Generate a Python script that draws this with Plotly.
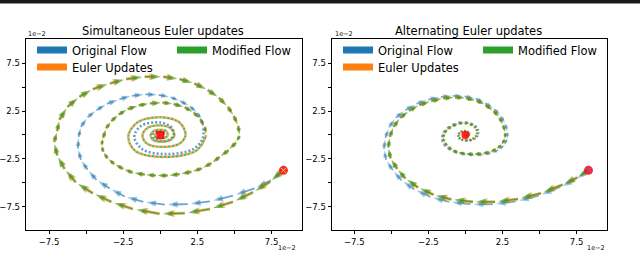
import math
import plotly.graph_objects as go

# ---------------- data (values in units of 1e-2) ----------------
START_X = [8.3]
START_Y = [-3.7]
CENTER_X = [0.0]
CENTER_Y = [0.0]

# Left panel: simultaneous Euler updates
L_EU_X = [8.3, 7.4, 6.25, 4.9, 3.35, 1.65, -0.05, -1.85, -3.3, -4.55,
          -5.7, -6.45, -6.95, -7.15, -6.95, -6.8, -6.25, -5.45, -4.55, -3.4,
          -2.3, -1.05, 0.2, 1.3, 2.3, 3.2, 3.95, 4.55, 4.95, 5.25,
          5.35, 5.1, 4.6, 4.0, 3.45, 2.8, 2.1, 1.3, 0.5, -0.3,
          -1.05, -1.85, -2.5, -3.1, -3.55, -3.85, -3.95, -3.85, -3.65, -3.3,
          -2.8, -2.2, -1.45, -0.7, 0.15, 0.9, 1.65, 2.25, 2.7, 3.0, 3.1]
L_EU_Y = [-3.7, -4.9, -6.0, -7.0, -7.75, -8.2, -8.25, -7.75, -7.0, -6.1,
          -4.95, -3.55, -2.15, -0.75, 0.4, 1.6, 2.95, 4.0, 4.8, 5.4,
          5.85, 6.1, 6.1, 5.85, 5.4, 4.7, 3.9, 2.95, 2.0, 0.95,
          -0.1, -0.8, -1.6, -2.3, -2.95, -3.5, -3.85, -4.1, -4.25, -4.25,
          -4.15, -3.95, -3.55, -3.05, -2.45, -1.75, -1.0, -0.3, 0.7, 1.45,
          2.15, 2.7, 3.1, 3.3, 3.4, 3.25, 2.9, 2.35, 1.65, 0.85, 0.0]
L_EU_IN_X = [3.1, 2.45, 0.3, -1.7, -2.15, -1.5, 0.1, 1.3, 1.7, 1.3, 0.15, -0.9,
             -1.2, -0.85, 0.05, 0.7, 0.95, 0.7, 0.1, -0.5, -0.65, -0.45, 0.0,
             0.4, 0.5, 0.35, 0.05, -0.28, -0.36, -0.25, 0.0, 0.2, 0.27]
L_EU_IN_Y = [0.0, -1.6, -2.3, -1.65, -0.1, 1.35, 1.85, 1.3, 0.0, -0.9, -1.25, -0.9,
             -0.05, 0.75, 1.0, 0.7, 0.0, -0.5, -0.7, -0.5, 0.0, 0.4, 0.55,
             0.4, 0.0, -0.28, -0.38, -0.27, 0.0, 0.22, 0.3, 0.2, 0.0]
L_MOD_X = L_EU_X
L_MOD_Y = L_EU_Y
L_MOD_IN_X = L_EU_IN_X
L_MOD_IN_Y = L_EU_IN_Y
L_OR_X = [8.3, 7.45, 6.35, 4.9, 3.35, 1.85, 0.3, -1.15, -2.4, -3.4,
          -4.3, -4.9, -5.35, -5.55, -5.5, -5.35, -4.9, -4.3, -3.6, -2.75,
          -1.9, -1.0, -0.1, 0.7, 1.35, 2.0, 2.5, 2.8, 2.9]
L_OR_Y = [-3.7, -4.75, -5.6, -6.35, -6.95, -7.25, -7.3, -7.0, -6.45, -5.6,
          -4.7, -3.65, -2.6, -1.4, -0.2, 0.85, 1.85, 2.6, 3.25, 3.75,
          4.1, 4.25, 4.2, 3.95, 3.55, 3.0, 2.3, 1.55, 0.7]
L_OR_IN_X = [2.9, 2.85, 2.2, 0.4, -1.2, -1.75, -1.3, 0.0, 0.75, 0.9, 0.6, 0.05,
             -0.4, -0.5, -0.3, 0.05, 0.25, 0.25, 0.1, -0.05, 0.0]
L_OR_IN_Y = [0.7, -0.4, -1.5, -2.0, -1.5, -0.2, 0.95, 1.3, 0.8, 0.0, -0.5, -0.65,
             -0.4, 0.05, 0.35, 0.4, 0.2, -0.05, -0.15, -0.1, 0.0]

# Right panel: alternating Euler updates
R_OR_X = [8.3, 7.4, 6.4, 4.95, 3.4, 1.85, 0.35, -1.1, -2.35, -3.45,
          -4.3, -4.9, -5.35, -5.5, -5.4, -5.15, -4.7, -4.05, -3.3, -2.5,
          -1.65, -0.85, -0.05, 0.7, 1.35, 1.95, 2.4, 2.7, 2.85, 2.8,
          2.55, 2.2, 1.7, 1.15, 0.55, 0.0, -0.55, -1.0, -1.35, -1.55,
          -1.6, -1.5, -1.25, -0.9, -0.5, -0.05, 0.35, 0.65, 0.85, 0.9,
          0.85, 0.7, 0.45, 0.15, -0.15, -0.4, -0.5, -0.5, -0.35, -0.1,
          0.15, 0.3, 0.3, 0.2, 0.05, -0.05, 0.0]
R_OR_Y = [-3.7, -4.7, -5.45, -6.35, -6.95, -7.25, -7.25, -7.0, -6.5, -5.7,
          -4.75, -3.7, -2.6, -1.45, -0.3, 0.8, 1.8, 2.6, 3.25, 3.7,
          4.0, 4.1, 4.05, 3.8, 3.35, 2.7, 1.95, 1.1, 0.25, -0.5,
          -1.15, -1.6, -1.9, -2.05, -2.1, -2.05, -1.9, -1.6, -1.2, -0.75,
          -0.25, 0.25, 0.7, 1.05, 1.3, 1.35, 1.25, 1.0, 0.65, 0.3,
          -0.05, -0.35, -0.55, -0.65, -0.6, -0.45, -0.2, 0.1, 0.35, 0.45,
          0.4, 0.25, 0.05, -0.1, -0.15, -0.1, 0.0]
R_MOD_X = [8.3, 7.55, 6.55, 5.1, 3.55, 2.0, 0.5, -0.95, -2.15, -3.2,
           -4.05, -4.6, -5.05, -5.2, -5.1, -4.85, -4.4, -3.8, -3.1, -2.3,
           -1.5, -0.7, 0.05, 0.75, 1.35, 1.9, 2.3, 2.55, 2.7, 2.65,
           2.4, 2.05, 1.6, 1.05, 0.5, -0.05, -0.55, -0.95, -1.25, -1.45,
           -1.5, -1.4, -1.15, -0.85, -0.45, -0.05, 0.3, 0.6, 0.75, 0.8,
           0.75, 0.6, 0.4, 0.15, -0.15, -0.35, -0.45, -0.45, -0.3, -0.1,
           0.1, 0.25, 0.25, 0.15, 0.05, 0.0]
R_MOD_Y = [-3.7, -4.45, -5.2, -6.1, -6.7, -7.0, -7.0, -6.75, -6.25, -5.5,
           -4.55, -3.55, -2.45, -1.3, -0.2, 0.85, 1.8, 2.55, 3.15, 3.55,
           3.85, 3.95, 3.85, 3.6, 3.15, 2.5, 1.8, 1.0, 0.2, -0.5,
           -1.1, -1.5, -1.8, -1.95, -2.0, -1.95, -1.8, -1.5, -1.1, -0.65,
           -0.2, 0.25, 0.65, 0.95, 1.2, 1.25, 1.15, 0.9, 0.6, 0.25,
           -0.05, -0.3, -0.5, -0.55, -0.5, -0.4, -0.15, 0.1, 0.3, 0.4,
           0.35, 0.2, 0.05, -0.1, -0.1, 0.0]
R_EU_X = R_MOD_X
R_EU_Y = R_MOD_Y

TICK_VALS = [-7.5, -5, -2.5, 0, 2.5, 5, 7.5]
TICK_TEXT = ["\u22127.5", "", "\u22122.5", "", "2.5", "", "7.5"]
TITLES = ["Simultaneous Euler updates", "Alternating Euler updates"]
NAMES = ["Original Flow", "Euler Updates", "Modified Flow"]

# ---------------- styling / layout ----------------
BLUE, ORANGE, GREEN = "#1f77b4", "#ff7f0e", "#2ca02c"
W, H = 640, 253
ML, MR, MT, MB = 26, 33, 39, 23
PW, PH = W - ML - MR, H - MT - MB
L_DOM = [0.0, 276 / PW]
R_DOM = [306 / PW, 1.0]
L_XR = [-9.05, 9.55]
R_XR = [-9.0, 9.55]
YR = [-9.95, 10.05]
FONT = "DejaVu Sans"

fig = go.Figure()


def scales(dom, xr):
    sx = (dom[1] - dom[0]) * PW / (xr[1] - xr[0])
    sy = PH / (YR[1] - YR[0])
    return sx, sy


def quiver(xs, ys, xa, ya, sx, sy, color, opacity, width, hmax, frac=0.85):
    shx, shy, hx, hy, ang, sz = [], [], [], [], [], []
    for i in range(len(xs) - 1):
        dx, dy = xs[i + 1] - xs[i], ys[i + 1] - ys[i]
        dxp, dyp = dx * sx, dy * sy
        d = math.hypot(dxp, dyp)
        if d == 0:
            continue
        ux, uy = dxp / d, dyp / d
        lp = d * frac
        tx, ty = xs[i] + dx * frac, ys[i] + dy * frac
        s = min(hmax, 0.8 * lp)
        back = 0.5 * s
        if lp > back + 0.5:
            shx += [xs[i], tx - ux * back / sx, None]
            shy += [ys[i], ty - uy * back / sy, None]
        hx.append(tx)
        hy.append(ty)
        ang.append(math.degrees(math.atan2(ux, uy)))
        sz.append(s)
    fig.add_trace(go.Scatter(x=shx, y=shy, mode="lines", xaxis=xa, yaxis=ya,
                             line=dict(color=color, width=width), opacity=opacity,
                             showlegend=False, hoverinfo="skip"))
    fig.add_trace(go.Scatter(x=hx, y=hy, mode="markers", xaxis=xa, yaxis=ya,
                             marker=dict(symbol="arrow", size=sz, angle=ang, color=color,
                                         line=dict(width=0)),
                             opacity=opacity, showlegend=False, hoverinfo="skip"))


def dotted(xs, ys, xa, ya, color, opacity, dash, width=2.6):
    fig.add_trace(go.Scatter(x=xs, y=ys, mode="lines", xaxis=xa, yaxis=ya,
                             line=dict(color=color, width=width, dash=dash, shape="spline"),
                             opacity=opacity, showlegend=False, hoverinfo="skip"))


# left panel
sx, sy = scales(L_DOM, L_XR)
quiver(L_OR_X, L_OR_Y, "x", "y", sx, sy, BLUE, 0.65, 1.8, 10)
dotted(L_OR_IN_X, L_OR_IN_Y, "x", "y", BLUE, 0.7, "2px,2px")
quiver(L_EU_X, L_EU_Y, "x", "y", sx, sy, ORANGE, 0.6, 3.0, 12)
dotted(L_EU_IN_X, L_EU_IN_Y, "x", "y", ORANGE, 0.7, "2px,2px")
quiver(L_MOD_X, L_MOD_Y, "x", "y", sx, sy, GREEN, 0.75, 1.6, 10)
dotted(L_MOD_IN_X, L_MOD_IN_Y, "x", "y", GREEN, 0.8, "0px,2px,2px,0px", 2.2)

# right panel
sx, sy = scales(R_DOM, R_XR)
quiver(R_OR_X, R_OR_Y, "x2", "y2", sx, sy, BLUE, 0.6, 1.8, 10)
quiver(R_EU_X, R_EU_Y, "x2", "y2", sx, sy, ORANGE, 0.6, 3.0, 12)
quiver(R_MOD_X, R_MOD_Y, "x2", "y2", sx, sy, GREEN, 0.8, 1.6, 10)

# start / end markers
for xa, ya, csym in (("x", "y", "square"), ("x2", "y2", "circle")):
    fig.add_trace(go.Scatter(x=CENTER_X, y=CENTER_Y, mode="markers", xaxis=xa, yaxis=ya,
                             marker=dict(symbol=csym, size=8, color="rgba(255,0,0,0.85)",
                                         line=dict(width=0)),
                             showlegend=False, hoverinfo="skip"))
    fig.add_trace(go.Scatter(x=START_X, y=START_Y, mode="markers", xaxis=xa, yaxis=ya,
                             marker=dict(symbol="circle", size=9, color="rgba(255,0,0,0.85)",
                                         line=dict(width=0)),
                             showlegend=False, hoverinfo="skip"))
    fig.add_trace(go.Scatter(x=START_X, y=START_Y, mode="markers", xaxis=xa, yaxis=ya,
                             marker=dict(symbol="x-thin-open", size=5,
                                         line=dict(width=1, color="white")),
                             showlegend=False, hoverinfo="skip"))

# legend entries (four single-row legends)
legend_spec = [("legend", NAMES[0], BLUE), ("legend", NAMES[2], GREEN),
               ("legend2", NAMES[1], ORANGE),
               ("legend3", NAMES[0], BLUE), ("legend3", NAMES[2], GREEN),
               ("legend4", NAMES[1], ORANGE)]
for lg, nm, col in legend_spec:
    fig.add_trace(go.Scatter(x=[None], y=[None], mode="lines", name=nm, legend=lg,
                             line=dict(color=col, width=7), xaxis="x", yaxis="y"))

axis_common = dict(tickvals=TICK_VALS, ticktext=TICK_TEXT, ticks="outside", ticklen=3.5,
                   tickwidth=0.8, tickcolor="black", showline=True, linecolor="black",
                   linewidth=0.8, mirror=True, showgrid=False, zeroline=False,
                   automargin=False,
                   tickfont=dict(family=FONT, size=8.5, color="black"), fixedrange=True)

leg_common = dict(orientation="h", xanchor="left", yanchor="middle", entrywidth=95,
                  bgcolor="rgba(0,0,0,0)", font=dict(family=FONT, size=11.5, color="black"),
                  itemclick=False, itemdoubleclick=False)


def px_y(py):
    return (MT + PH - py) / PH


def px_x(px):
    return (px - ML) / PW


fig.update_layout(
    width=W, height=H, margin=dict(l=ML, r=MR, t=MT, b=MB, pad=0, autoexpand=False),
    paper_bgcolor="white", plot_bgcolor="white",
    font=dict(family=FONT, color="black"),
    xaxis=dict(domain=L_DOM, range=L_XR, anchor="y", **axis_common),
    yaxis=dict(domain=[0, 1], range=YR, anchor="x", **axis_common),
    xaxis2=dict(domain=R_DOM, range=R_XR, anchor="y2", **axis_common),
    yaxis2=dict(domain=[0, 1], range=YR, anchor="x2", **axis_common),
    legend=dict(x=px_x(32), y=px_y(50), **leg_common),
    legend2=dict(x=px_x(32), y=px_y(67), **leg_common),
    legend3=dict(x=px_x(338), y=px_y(50), **leg_common),
    legend4=dict(x=px_x(338), y=px_y(67), **leg_common),
    showlegend=True,
)

annots = [
    dict(text=TITLES[0], x=px_x(163), y=px_y(31)),
    dict(text=TITLES[1], x=px_x(469), y=px_y(31)),
]
for a in annots:
    fig.add_annotation(xref="paper", yref="paper", showarrow=False, xanchor="center",
                       yanchor="middle", font=dict(family=FONT, size=11.5, color="black"), **a)
for x, y, xa in ((px_x(26), px_y(34), "left"), (px_x(333), px_y(34), "left"),
                 (px_x(298), px_y(248), "right"), (px_x(607), px_y(248), "right")):
    fig.add_annotation(xref="paper", yref="paper", showarrow=False, xanchor=xa,
                       yanchor="middle", text="1e\u22122", x=x, y=y,
                       font=dict(family=FONT, size=6.5, color="black"))

# dark strip along the top edge of the image (pixel-sized, anchored at the top edge)
fig.add_shape(type="rect", xref="paper", yref="paper", ysizemode="pixel", yanchor=px_y(0),
              x0=px_x(0), x1=px_x(W), y0=-3.5, y1=0, fillcolor="#1a1a1a",
              line=dict(width=0), layer="above")

fig.write_html("out.html", config={"displayModeBar": False},
               post_script="document.body.style.margin='0px';")
